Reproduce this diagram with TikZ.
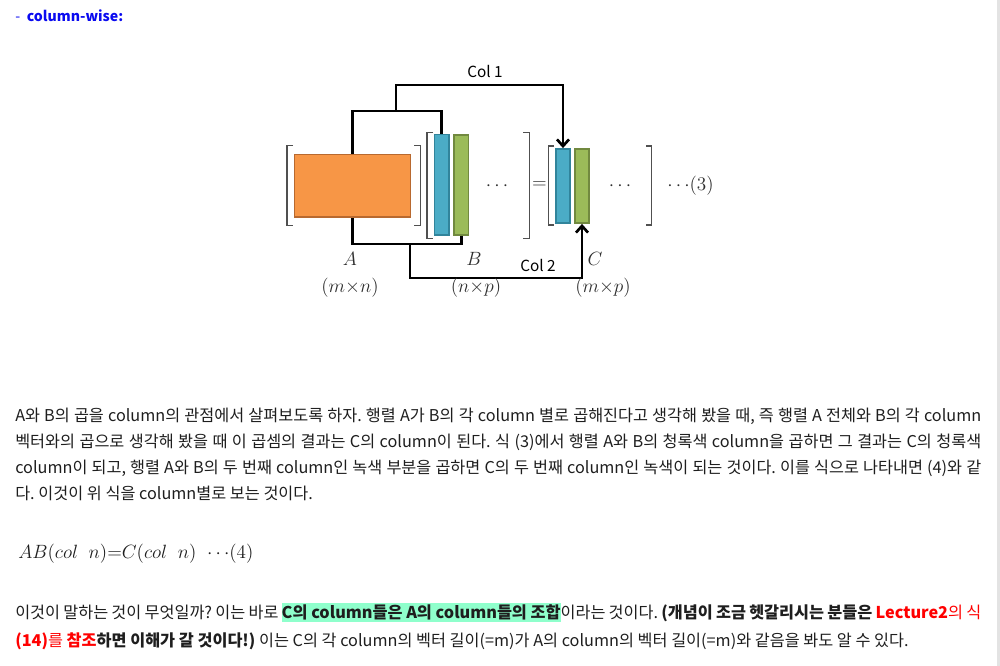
\documentclass[tikz,border=0pt]{standalone}
\usepackage{fontspec}
\newfontfamily\kr{Noto Sans CJK KR}
\usetikzlibrary{arrows.meta}
\definecolor{orangeF}{HTML}{F79646}
\definecolor{orangeD}{HTML}{B8692F}
\definecolor{blueF}{HTML}{4BACC6}
\definecolor{blueD}{HTML}{31849B}
\definecolor{greenF}{HTML}{9BBB59}
\definecolor{greenD}{HTML}{71893F}
\definecolor{hl}{RGB}{143,255,204}
\definecolor{txt}{HTML}{1E1E1E}
\definecolor{brk}{HTML}{505050}
\definecolor{lbl}{HTML}{2E2E2E}
\definecolor{headblue}{RGB}{10,10,240}
\definecolor{edge}{HTML}{E3E3E3}
\newcommand{\mylinew}{724.5pt}
\newcommand{\hlbox}[1]{{\setlength{\fboxsep}{0pt}\colorbox{hl}{\rule[-3pt]{0pt}{14.3pt}#1}}}
\newcommand{\mydots}{{\cdotp\cdotp\cdotp}}
\tikzset{
  blockbox/.style={draw, line width=1.4pt, inner sep=0pt},
  conn/.style={line width=2.2pt, draw=black},
  arr/.style={conn, -{Straight Barb[length=5pt,width=9pt,line width=2pt]}},
  brack/.style={line width=1.1pt, draw=brk},
  mlabel/.style={inner sep=0pt, text=lbl, font=\fontsize{15}{17}\selectfont},
  collabel/.style={inner sep=0pt, text=black, font=\kr\fontsize{11.5}{13}\selectfont},
  bodyline/.style={anchor=base west, inner sep=0pt, text=txt, font=\kr\fontsize{12.2}{14}\selectfont\frenchspacing},
}
\begin{document}
\begin{tikzpicture}[x=0.75pt,y=-0.75pt]
\useasboundingbox (0,0) rectangle (1000,666);
\fill[white] (0,0) rectangle (1000,666);
\fill[edge] (997,0) rectangle (999.5,666);

% heading
\node[anchor=base west, inner sep=0pt, text=headblue, font=\kr\fontsize{10.6}{13}\selectfont] (head) at (15,22) {-\hspace{5pt}{\bfseries column-wise:}};

% blocks
\node[blockbox, fill=orangeF, draw=orangeD, minimum width=87pt, minimum height=46.9pt] (A) at (352.5,185.75) {};
\node[blockbox, fill=blueF, draw=blueD, minimum width=10.9pt, minimum height=75.4pt] (bB) at (441.75,184.75) {};
\node[blockbox, fill=greenF, draw=greenD, minimum width=10.9pt, minimum height=75pt] (gB) at (461.25,185) {};
\node[blockbox, fill=blueF, draw=blueD, minimum width=10.5pt, minimum height=55.5pt] (bC) at (563,186) {};
\node[blockbox, fill=greenF, draw=greenD, minimum width=10.5pt, minimum height=55.5pt] (gC) at (582,186) {};

% brackets
\draw[brack] (293,145.5) -- (287,145.5) -- (287,225.5) -- (293,225.5);
\draw[brack] (414,145.5) -- (420.5,145.5) -- (420.5,225.5) -- (414,225.5);
\draw[brack] (433,132.5) -- (427,132.5) -- (427,238.5) -- (433,238.5);
\draw[brack] (523,132.5) -- (529.5,132.5) -- (529.5,238.5) -- (523,238.5);
\draw[brack] (554,146) -- (548.5,146) -- (548.5,225) -- (554,225);
\draw[brack] (646,146) -- (651.5,146) -- (651.5,225) -- (646,225);

% dots, equals
\node[mlabel] (dB) at (497,186) {$\mydots$};
\node[mlabel] (eq) at (539.5,185) {$=$};
\node[mlabel] (dC) at (620,186) {$\mydots$};
\node[mlabel, anchor=west] (n3) at (667,186) {$\mydots(3)$};

% connectors
\coordinate (k1) at (352,111);
\coordinate (k2) at (352,244);
\coordinate (c1s) at (396,111);
\coordinate (c1t) at (396,85);
\coordinate (c2s) at (410,244);
\coordinate (c2t) at (410,278);
\draw[conn] (A.north) -- (A.north |- k1) -| (bB.north);
\draw[conn] (A.south) -- (A.south |- k2) -| (gB.south);
\draw[arr] (c1s) -- (c1t) -| (bC.north);
\draw[arr] (c2s) -- (c2t) -| (gC.south);

\node[collabel] (col1) at (485,72) {Col 1};
\node[collabel] (col2) at (538,265) {Col 2};

% labels
\node[mlabel] (la) at (350,259) {$A$};
\node[mlabel] (lb) at (474,259) {$B$};
\node[mlabel] (lc) at (595,259) {$C$};
\node[mlabel] (sa) at (350,288) {$(m{\times}n)$};
\node[mlabel] (sb) at (476,288) {$(n{\times}p)$};
\node[mlabel] (sc) at (603,288) {$(m{\times}p)$};

% paragraph 1
\node[bodyline] (p1) at (15,422) {\makebox[\mylinew][s]{A와 B의 곱을 column의 관점에서 살펴보도록 하자. 행렬 A가 B의 각 column 별로 곱해진다고 생각해 봤을 때, 즉 행렬 A 전체와 B의 각 column}};
\node[bodyline] (p2) at (15,448) {\makebox[\mylinew][s]{벡터와의 곱으로 생각해 봤을 때 이 곱셈의 결과는 C의 column이 된다. 식 (3)에서 행렬 A와 B의 청록색 column을 곱하면 그 결과는 C의 청록색}};
\node[bodyline] (p3) at (15,474) {\makebox[\mylinew][s]{column이 되고, 행렬 A와 B의 두 번째 column인 녹색 부분을 곱하면 C의 두 번째 column인 녹색이 되는 것이다. 이를 식으로 나타내면 (4)와 같}};
\node[bodyline] (p4) at (15,500) {다. 이것이 위 식을 column별로 보는 것이다.};

% equation 4
\node[anchor=base west, inner sep=0pt, text=txt, font=\fontsize{15}{17}\selectfont] (eq4) at (18,558) {$AB(col\;\; n){=}C(col\;\; n)\;\;\mydots(4)$};

% paragraph 2
\node[bodyline] (q1) at (15,618) {\makebox[\mylinew][s]{이것이 말하는 것이 무엇일까? 이는 바로 \hlbox{\bfseries C의 column들은 A의 column들의 조합}이라는 것이다. {\bfseries (개념이 조금 헷갈리시는 분들은 }{\color{red}\bfseries Lecture2}{\color{red}의 식}}};
\node[bodyline] (q2) at (15,646) {{\color{red}\bfseries (14)}{\color{red}를 }{\color{red}\bfseries 참조}{\bfseries 하면 이해가 갈 것이다!)} 이는 C의 각 column의 벡터 길이(=m)가 A의 column의 벡터 길이(=m)와 같음을 봐도 알 수 있다.};
\end{tikzpicture}
\end{document}
